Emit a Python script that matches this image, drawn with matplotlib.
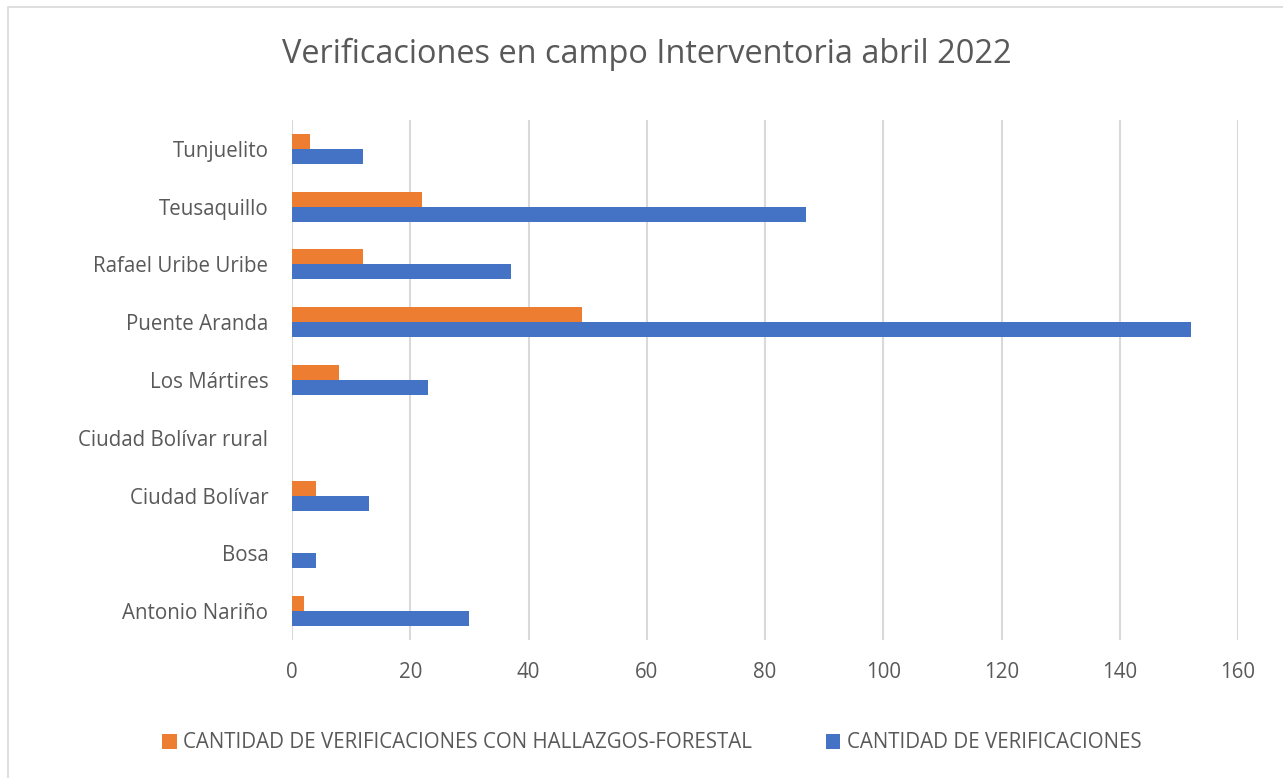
import numpy as np
import matplotlib.pyplot as plt
from matplotlib.patches import Rectangle

plt.rcParams['font.family'] = ['Open Sans', 'DejaVu Sans']

# datos (de abajo hacia arriba)
localidades = ["Antonio Nariño", "Bosa", "Ciudad Bolívar", "Ciudad Bolívar rural",
               "Los Mártires", "Puente Aranda", "Rafael Uribe Uribe",
               "Teusaquillo", "Tunjuelito"]
verificaciones = [30, 4, 13, 0, 23, 152, 37, 87, 12]
hallazgos = [2, 0, 4, 0, 8, 49, 12, 22, 3]

gris_texto = "#595959"
naranja = "#ED7D31"
azul = "#4472C4"

fig = plt.figure(figsize=(12.83, 7.78), dpi=100)
ax = fig.add_axes([292/1283, 1 - 640/778, (1238 - 292)/1283, 520/778])

y = np.arange(len(localidades))
h = 0.26
ax.barh(y + h/2, hallazgos, height=h, color=naranja,
        label="CANTIDAD DE VERIFICACIONES CON HALLAZGOS-FORESTAL")
ax.barh(y - h/2, verificaciones, height=h, color=azul,
        label="CANTIDAD DE VERIFICACIONES")

ax.set_xlim(0, 160)
ax.set_ylim(-0.5, len(localidades) - 0.5)
ax.set_xticks(np.arange(0, 161, 20))
ax.set_yticks(y)
ax.set_yticklabels(localidades)
ax.tick_params(axis='both', length=0, labelsize=14.8, colors=gris_texto)
ax.tick_params(axis='x', pad=16)
ax.tick_params(axis='y', pad=17)
ax.grid(axis='x', color="#D9D9D9", linewidth=1.5)
ax.set_axisbelow(True)
for s in ax.spines.values():
    s.set_visible(False)

fig.text(647/1283, 1 - 54/778, "Verificaciones en campo Interventoria abril 2022",
         ha='center', va='center', fontsize=23.4, color=gris_texto)

leg = fig.legend(loc='center', bbox_to_anchor=(0.508, 1 - 743/778), ncol=2,
                 frameon=False, fontsize=14.8, handlelength=0.7, handleheight=0.7,
                 handletextpad=0.3, columnspacing=3.6)
for t in leg.get_texts():
    t.set_color(gris_texto)

fig.patches.append(Rectangle((8/1283, -0.05), 1.2, 1 - 7/778 + 0.05,
                             transform=fig.transFigure, fill=False,
                             edgecolor="#D9D9D9", linewidth=1.2))

fig.savefig("out.png", dpi=100)
